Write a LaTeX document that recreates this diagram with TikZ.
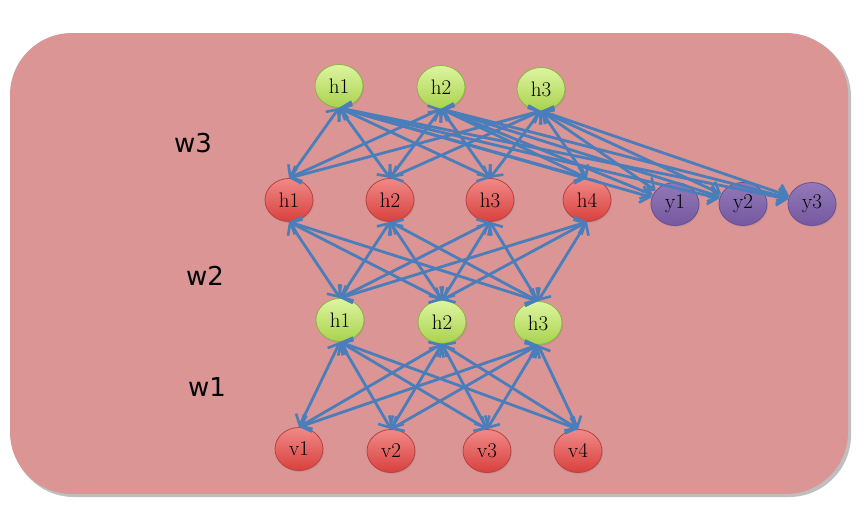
\documentclass[tikz,border=0pt]{standalone}
\usepackage{fontspec}
\newfontfamily\labfont{DejaVu Sans}
\usetikzlibrary{arrows.meta,shapes.geometric,shadows}
\definecolor{bgpink}{HTML}{DB9594}
\definecolor{edgeblue}{HTML}{4A7EBB}
\definecolor{gtop}{HTML}{DDF5A0}
\definecolor{gbot}{HTML}{A9D24E}
\definecolor{gborder}{HTML}{8DB344}
\definecolor{rtop}{HTML}{F08A88}
\definecolor{rbot}{HTML}{D9403D}
\definecolor{rborder}{HTML}{B8423F}
\definecolor{ptop}{HTML}{9379B8}
\definecolor{pbot}{HTML}{7558A0}
\definecolor{pborder}{HTML}{6A5090}
\tikzset{
  unit/.style={ellipse, minimum width=48pt, minimum height=43pt, inner sep=0pt,
    font=\fontsize{21}{21}\selectfont, line width=0.8pt,
    drop shadow={shadow xshift=1pt, shadow yshift=-1.5pt, opacity=0.25}},
  gnode/.style={unit, top color=gtop, bottom color=gbot, draw=gborder},
  rnode/.style={unit, top color=rtop, bottom color=rbot, draw=rborder},
  pnode/.style={unit, top color=ptop, bottom color=pbot, draw=pborder},
  edge/.style={draw=edgeblue, line width=2.8pt,
    {Straight Barb[length=9pt,width=17pt,line width=2.6pt]}-{Straight Barb[length=9pt,width=17pt,line width=2.6pt]}},
  wlabel/.style={font=\labfont\fontsize{26}{26}\selectfont}
}
\begin{document}
\begin{tikzpicture}[x=1pt,y=-1pt]
\useasboundingbox (0,0) rectangle (865,520);
\fill[black!25, rounded corners=62pt] (12,35) rectangle (851,497);
\fill[bgpink, rounded corners=62pt] (10,33) rectangle (848,494);

\node[wlabel] (w3) at (193,143) {w3};
\node[wlabel] (w2) at (205,276) {w2};
\node[wlabel] (w1) at (207,387) {w1};

% top hidden layer
\node[gnode] (t1) at (339,86) {h1};
\node[gnode] (t2) at (441,87) {h2};
\node[gnode] (t3) at (541,89) {h3};
% red hidden layer
\node[rnode] (a1) at (289,200) {h1};
\node[rnode] (a2) at (390,200) {h2};
\node[rnode] (a3) at (490,200) {h3};
\node[rnode] (a4) at (587,200) {h4};
% outputs
\node[pnode] (y1) at (675,204) {y1};
\node[pnode] (y2) at (743,204) {y2};
\node[pnode] (y3) at (812,204) {y3};
% middle hidden layer
\node[gnode] (m1) at (340,320) {h1};
\node[gnode] (m2) at (442,322) {h2};
\node[gnode] (m3) at (538,323) {h3};
% visible layer
\node[rnode] (v1) at (299,449) {v1};
\node[rnode] (v2) at (391,451) {v2};
\node[rnode] (v3) at (487,451) {v3};
\node[rnode] (v4) at (578,451) {v4};

\foreach \a in {t1,t2,t3}{
  \foreach \b in {a1,a2,a3,a4}{
    \draw[edge] (\a.south) -- (\b.north);
  }
  \foreach \b in {y1,y2,y3}{
    \draw[edge] (\a.south) -- (\b);
  }
}
\foreach \a in {a1,a2,a3,a4}{
  \foreach \b in {m1,m2,m3}{
    \draw[edge] (\a.south) -- (\b.north);
  }
}
\foreach \a in {m1,m2,m3}{
  \foreach \b in {v1,v2,v3,v4}{
    \draw[edge] (\a.south) -- (\b.north);
  }
}
\end{tikzpicture}
\end{document}
